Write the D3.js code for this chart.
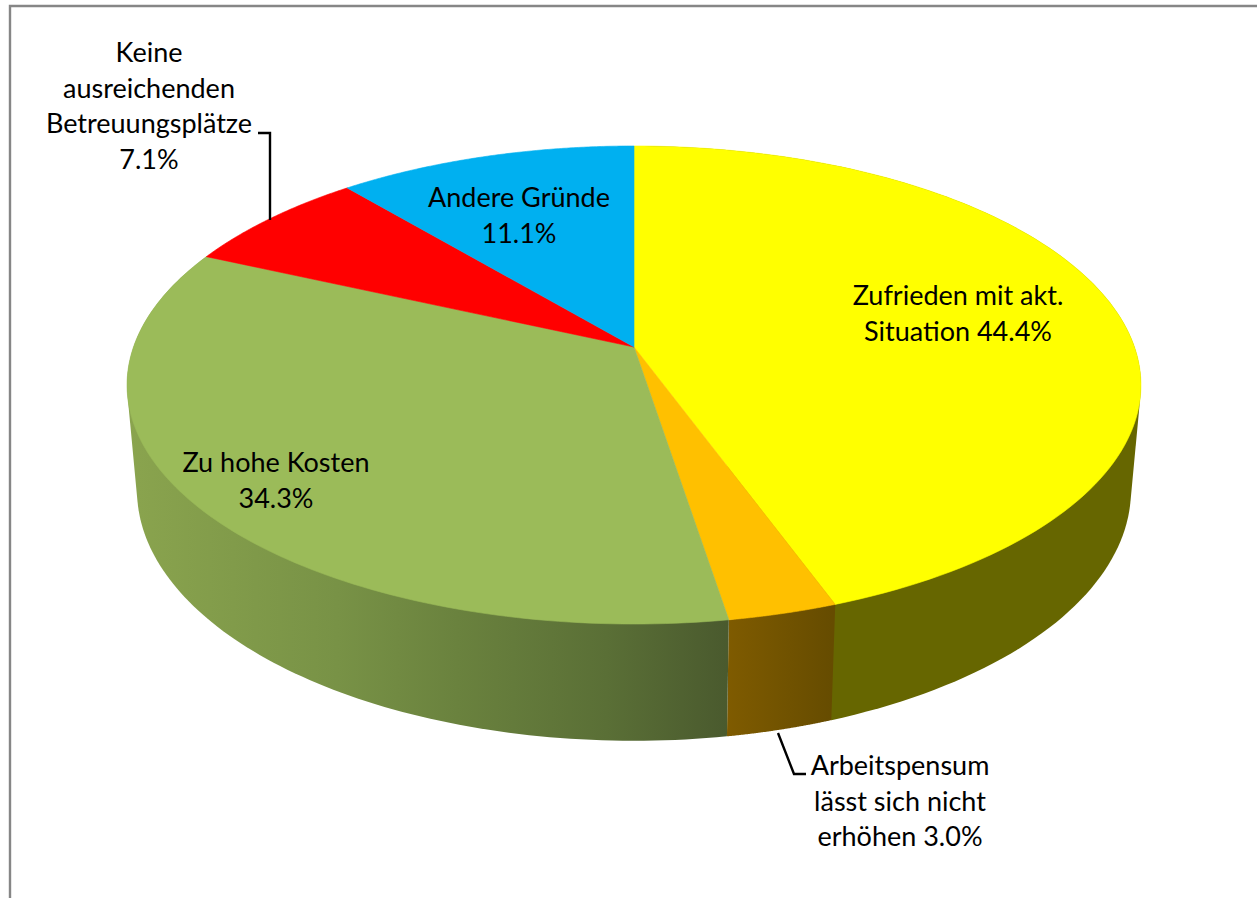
<!DOCTYPE html>
<html><head><meta charset="utf-8">
<style>html,body{margin:0;padding:0;background:#fff;overflow:hidden}svg{display:block}</style>
<script src="https://cdn.jsdelivr.net/npm/d3@7/dist/d3.min.js"></script></head>
<body><svg id="c" width="1257" height="898"></svg>
<script>
const categories = ["Zufrieden mit akt. Situation","Arbeitspensum lässt sich nicht erhöhen","Zu hohe Kosten","Keine ausreichenden Betreuungsplätze","Andere Gründe"];
const values = [44.4,3.0,34.3,7.1,11.1];
const topColors = ["#ffff00","#ffc000","#9bbb59","#ff0000","#00b0f0"];
const labelLines = [["Zufrieden mit akt.","Situation 44.4%"],["Arbeitspensum","lässt sich nicht","erhöhen 3.0%"],["Zu hohe Kosten","34.3%"],["Keine","ausreichenden","Betreuungsplätze","7.1%"],["Andere Gründe","11.1%"]];

const svg = d3.select("#c");
const FONT = "Lato, 'Open Sans', sans-serif";
svg.append("path").attr("d","M10 898V6H1257").attr("fill","none").attr("stroke","#868686").attr("stroke-width",2.4);

// perspective projection of the unit disc
const CX = 634;
function proj(f){ return t => { const u=Math.sin(t), v=-Math.cos(t), w=1+f.c*v;
  return [CX+f.d*u/w, (f.b+f.a*v)/w]; }; }
const topP = proj({a:177.8,b:347,c:-0.159,d:500.5});
const botP = proj({a:173,b:450,c:-0.159,d:490.7});

const pie = d3.pie().value(d=>d).sort(null)(values);
const line = d3.line();
const arcPts = (p,a0,a1)=>d3.range(0,121).map(i=>p(a0+(a1-a0)*i/120));

const defs = svg.append("defs");
const gradStops = {
  1:[["0%","#7f5b00"],["100%","#664c00"]],
  2:[["0%","#8aa44e"],["35%","#789246"],["55%","#6a823e"],["80%","#5a6f36"],["100%","#4a5a2e"]]
};
const gradRange = {1:[727,832],2:[128,727]};
Object.keys(gradStops).forEach(k=>{
  const g=defs.append("linearGradient").attr("id","w"+k).attr("gradientUnits","userSpaceOnUse")
    .attr("x1",gradRange[k][0]).attr("x2",gradRange[k][1]).attr("y1",0).attr("y2",0);
  gradStops[k].forEach(s=>g.append("stop").attr("offset",s[0]).attr("stop-color",s[1]));
});
const wallFill = i => i===0 ? "#666600" : "url(#w"+i+")";

// side walls of the three front slices
[0,1,2].forEach(i=>{
  const s=pie[i];
  const hull=d3.polygonHull(arcPts(topP,s.startAngle,s.endAngle).concat(arcPts(botP,s.startAngle,s.endAngle)));
  svg.append("path").attr("d",line(hull)+"Z").attr("fill",wallFill(i));
});
// top faces
pie.forEach((s,i)=>{
  const pts=[[CX,347]].concat(arcPts(topP,s.startAngle,s.endAngle));
  svg.append("path").attr("d",line(pts)+"Z").attr("fill",topColors[i]).attr("stroke",topColors[i]).attr("stroke-width",0.6);
});
// leader lines
const leaders=[[[258,133],[270,133],[270,220]],[[778,733],[794,774],[806,774]]];
leaders.forEach(l=>svg.append("path").attr("d",line(l)).attr("fill","none").attr("stroke","#000").attr("stroke-width",2.4));
// labels
const labelPos=[[958,305],[900,775],[276,472],[149,62],[519,207]];
const lineGap=35.5;
labelLines.forEach((ls,i)=>{
  const t=svg.append("text").attr("text-anchor","middle").attr("font-family",FONT).attr("font-size",27).attr("fill","#000");
  ls.forEach((x,j)=>t.append("tspan").attr("x",labelPos[i][0]).attr("y",labelPos[i][1]+j*lineGap).text(x));
});
</script></body></html>
